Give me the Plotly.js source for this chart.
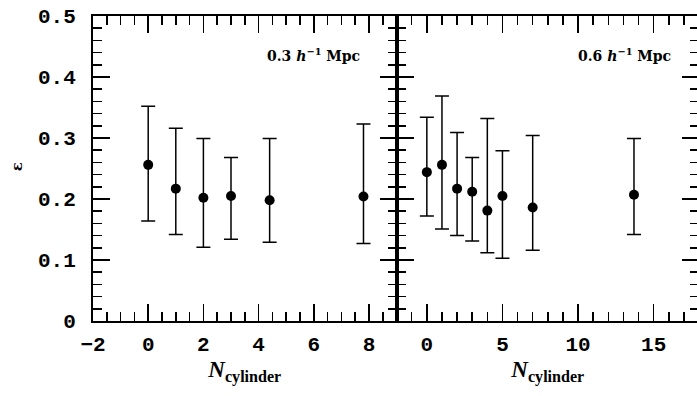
<!DOCTYPE html>
<html>
<head>
<meta charset="utf-8">
<script src="https://cdn.plot.ly/plotly-3.0.1.min.js"></script>
<style>
html,body{margin:0;padding:0;background:#fff;overflow:hidden;width:697px;height:396px;}
#chart{width:701px;height:396px;}
</style>
</head>
<body>
<div id="chart"></div>
<script>
// Left panel: 0.3 h^-1 Mpc
const nLeft     = [0, 1, 2, 3, 4.4, 7.8];
const epsLeft   = [0.256, 0.217, 0.202, 0.205, 0.198, 0.204];
const upLeft    = [0.352, 0.316, 0.299, 0.268, 0.299, 0.323];
const lowLeft   = [0.164, 0.142, 0.121, 0.134, 0.129, 0.127];

// Right panel: 0.6 h^-1 Mpc
const nRight    = [0, 1, 2, 3, 4, 5, 7, 13.7];
const epsRight  = [0.244, 0.256, 0.217, 0.212, 0.181, 0.205, 0.186, 0.207];
const upRight   = [0.334, 0.369, 0.309, 0.268, 0.332, 0.279, 0.304, 0.299];
const lowRight  = [0.172, 0.151, 0.140, 0.131, 0.112, 0.103, 0.116, 0.142];

const labelLeft  = '0.3 <i>h</i><sup>−1</sup> Mpc';
const labelRight = '0.6 <i>h</i><sup>−1</sup> Mpc';
const yLabel = '<b>ε</b>';

function diff(a, b){ return a.map((v,i)=>Math.abs(v-b[i])); }

const markerStyle = {color:'#000', size:10};
const errStyle = {type:'data', symmetric:false, color:'#000', thickness:1.5, width:7};

const traces = [
  {x:nLeft, y:epsLeft, xaxis:'x', yaxis:'y', mode:'markers', type:'scatter',
   marker:markerStyle,
   error_y:Object.assign({array:diff(upLeft,epsLeft), arrayminus:diff(epsLeft,lowLeft)}, errStyle),
   showlegend:false, hoverinfo:'none'},
  {x:nRight, y:epsRight, xaxis:'x2', yaxis:'y2', mode:'markers', type:'scatter',
   marker:markerStyle,
   error_y:Object.assign({array:diff(upRight,epsRight), arrayminus:diff(epsRight,lowRight)}, errStyle),
   showlegend:false, hoverinfo:'none'}
];

const tickFont = {family:'Liberation Mono, DejaVu Sans Mono, monospace', size:21, color:'#000', weight:'bold'};
const split = 0.501;

const baseAxis = {
  showgrid:false, zeroline:false, showline:true, linecolor:'#000', linewidth:2,
  mirror:'ticks', ticks:'inside', tickcolor:'#000', tickwidth:1.5, ticklen:17,
  tickfont:tickFont
};

const titleText = '<b><i>N</i></b><sub><b>cylinder</b></sub>';
const titleFont = {family:'Liberation Serif, DejaVu Serif, serif', size:23, color:'#000'};

const layout = {
  width:701, height:396,
  margin:{l:93, r:2, t:16, b:75},
  paper_bgcolor:'#fff', plot_bgcolor:'#fff',
  xaxis:Object.assign({}, baseAxis, {
    domain:[0, split], range:[-2, 9], tick0:0, dtick:2, anchor:'y',
    minor:{ticks:'inside', ticklen:9, tickwidth:1.5, tickcolor:'#000', dtick:0.5, showgrid:false},
    ticklabelstandoff:3,
    title:{text:titleText, font:titleFont, standoff:4}
  }),
  xaxis2:Object.assign({}, baseAxis, {
    domain:[split, 1], range:[-2, 18], tick0:0, dtick:5, anchor:'y2',
    minor:{ticks:'inside', ticklen:9, tickwidth:1.5, tickcolor:'#000', dtick:1, showgrid:false},
    ticklabelstandoff:3,
    title:{text:titleText, font:titleFont, standoff:4}
  }),
  yaxis:Object.assign({}, baseAxis, {
    range:[0, 0.5], dtick:0.1, tick0:0, anchor:'x',
    minor:{ticks:'inside', ticklen:9, tickwidth:1.5, tickcolor:'#000', dtick:0.02, showgrid:false},
    ticklabelstandoff:11
  }),
  yaxis2:Object.assign({}, baseAxis, {
    range:[0, 0.5], dtick:0.1, tick0:0, anchor:'x2', showticklabels:false,
    minor:{ticks:'inside', ticklen:9, tickwidth:1.5, tickcolor:'#000', dtick:0.02, showgrid:false}
  }),
  annotations:[
    {text:yLabel, xref:'paper', yref:'paper', x:-0.1254, y:0.504, xanchor:'center', yanchor:'middle',
     textangle:-90, showarrow:false, font:{family:'DejaVu Serif, serif', size:15, color:'#000'}},
    {text:labelLeft, xref:'x domain', yref:'y domain', x:0.886, y:0.872, xanchor:'right', yanchor:'middle',
     showarrow:false, font:{family:'DejaVu Serif, serif', size:14, color:'#000', weight:'bold'}},
    {text:labelRight, xref:'x2 domain', yref:'y2 domain', x:0.913, y:0.872, xanchor:'right', yanchor:'middle',
     showarrow:false, font:{family:'DejaVu Serif, serif', size:14, color:'#000', weight:'bold'}}
  ]
};

Plotly.newPlot('chart', traces, layout, {staticPlot:true, displayModeBar:false});
</script>
</body>
</html>
